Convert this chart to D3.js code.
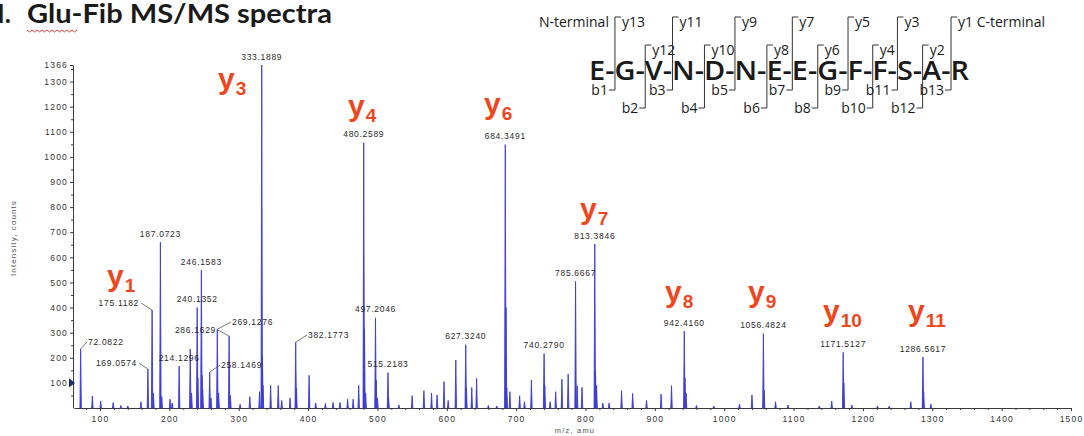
<!DOCTYPE html>
<html>
<head>
<meta charset="utf-8">
<script src="https://cdn.jsdelivr.net/npm/d3@7"></script>
<style>
  body { margin: 0; background: #fff; }
  svg { display: block; }
</style>
</head>
<body>
<svg width="1084" height="436"></svg>
<script>
// labelled peaks (m/z, intensity in counts)
const peakMz  = [72.0822, 169.0574, 175.1182, 187.0723, 214.1296, 240.1352, 246.1583, 258.1469,
                 269.1276, 286.1629, 333.1889, 382.1773, 480.2589, 497.2046, 515.2183, 627.3240,
                 684.3491, 740.2790, 785.6667, 813.3846, 942.4160, 1056.4824, 1171.5127, 1286.5617];
const peakInt = [235, 155, 390, 660, 167, 400, 549, 143,
                 314, 286, 1366, 262, 1056, 359, 141, 252,
                 1049, 217, 504, 653, 306, 297, 222, 203];

// unlabelled smaller peaks
const minorMz  = [89, 101, 119, 130, 140, 159, 177, 189, 201, 204, 230.1, 232, 241.1, 247.2, 248, 260,
                  271, 288, 302, 316, 330, 334.2, 335, 346, 357, 362, 374, 383.2, 401.5, 411, 425, 436,
                  446, 457, 465, 473, 481.3, 483, 498.2, 500, 516, 531, 550, 567, 578, 586, 596, 602,
                  613, 628.3, 636, 643, 660, 672, 685.4, 686.5, 691, 705, 712, 722, 741.3, 749, 757, 766,
                  775, 788, 795, 814.4, 816, 825, 834, 852, 868, 888, 909, 924, 943.4, 945, 960, 985,
                  1022, 1040, 1057.5, 1074, 1092, 1137, 1155, 1172.5, 1184, 1221, 1238, 1269, 1287.6, 1298];
const minorInt = [48, 28, 22, 10, 8, 25, 60, 45, 35, 20, 235, 60, 120, 130, 75, 40,
                  60, 50, 15, 45, 65, 205, 90, 90, 90, 30, 40, 80, 130, 20, 18, 22,
                  22, 35, 35, 90, 315, 60, 110, 40, 40, 12, 49, 69, 60, 52, 105, 30,
                  191, 80, 82, 118, 10, 8, 400, 80, 65, 49, 25, 111, 90, 25, 65, 115,
                  135, 89, 82, 150, 90, 20, 20, 69, 58, 30, 56, 89, 120, 60, 10, 8,
                  15, 52, 70, 25, 12, 8, 28, 100, 12, 8, 8, 25, 65, 15];

// y-ion assignments (index into the labelled peaks)
const ionNames = ["1", "3", "4", "6", "7", "8", "9", "10", "11"];
const ionPeak  = [2, 10, 12, 16, 19, 20, 21, 22, 23];

// peptide
const residues = ["E", "G", "V", "N", "D", "N", "E", "E", "G", "F", "F", "S", "A", "R"];

const xTicks = d3.range(100, 1501, 100);
const yTicks = d3.range(100, 1301, 100).concat([1366]);

// ---------- layout ----------
const svg = d3.select("svg");
const x = d3.scaleLinear().domain([62.5, 1500]).range([74, 1071]);
const y = d3.scaleLinear().domain([0, 1366]).range([408, 65]);
const axisCol = "#3a3a3a";
const peakCol = "#3d3dd3";
const ionCol = "#f0461e";
const numFont = "Liberation Sans";

// title
svg.append("text").attr("x", -3).attr("y", 23)
    .attr("font-family", "Lato").attr("font-weight", 700).attr("font-size", 26)
    .attr("fill", "#1a1a1a").text("I.");
svg.append("text").attr("x", 27).attr("y", 23)
    .attr("font-family", "Lato").attr("font-weight", 700).attr("font-size", 26)
    .attr("textLength", 305).attr("lengthAdjust", "spacingAndGlyphs")
    .attr("fill", "#1a1a1a").text("Glu-Fib MS/MS spectra");
// spell-check squiggle under "Glu"
let sq = "M27,30";
for (let i = 0, xx = 27; xx < 77; i++) { xx += 2.5; sq += `L${xx},${i % 2 ? 30 : 32}`; }
svg.append("path").attr("d", sq).attr("fill", "none").attr("stroke", "#e0403a").attr("stroke-width", 1);

// axes
const gx = svg.append("g").attr("transform", `translate(0,${y(0)})`)
    .call(d3.axisBottom(x).tickValues(xTicks).tickFormat(d3.format("d"))
        .tickSize(3).tickSizeOuter(0).tickPadding(5));
svg.append("g").attr("transform", `translate(0,${y(0)})`)
    .call(d3.axisBottom(x).tickValues(d3.range(80, 1500, 20).filter(v => v % 100)).tickSize(2).tickFormat(""))
    .call(g => g.select(".domain").remove());
const gy = svg.append("g").attr("transform", `translate(73,0)`)
    .call(d3.axisLeft(y).tickValues(yTicks).tickFormat(d3.format("d"))
        .tickSize(3).tickSizeOuter(0).tickPadding(2));
svg.append("g").attr("transform", `translate(73,0)`)
    .call(d3.axisLeft(y).tickValues(d3.range(50, 1366, 100)).tickSize(2).tickFormat(""))
    .call(g => g.select(".domain").remove());
svg.selectAll(".domain, .tick line").attr("stroke", axisCol);
[gx, gy].forEach(g => g.selectAll("text")
    .attr("font-family", numFont).attr("font-size", 8.5)
    .attr("letter-spacing", 1.2).attr("fill", "#333"));

svg.append("text")
    .attr("transform", "translate(16,238) rotate(-90)")
    .attr("text-anchor", "middle").attr("font-family", numFont).attr("font-size", 8)
    .attr("letter-spacing", 1.1).attr("fill", "#555").text("Intensity, counts");
svg.append("text").attr("x", 575).attr("y", 433)
    .attr("text-anchor", "middle").attr("font-family", numFont).attr("font-size", 7.5)
    .attr("letter-spacing", 1.2).attr("fill", "#555").text("m/z, amu");

// threshold marker on y axis
svg.append("path").attr("d", `M69,${y(118)}L75,${y(100)}L69,${y(82)}Z`).attr("fill", "#1d2a70");

// peaks
const allPeaks = d3.zip(minorMz, minorInt).concat(d3.zip(peakMz, peakInt));
svg.append("g").selectAll("path").data(allPeaks).join("path")
    .attr("d", d => `M${x(d[0]) - 0.7},${y(0)}L${x(d[0])},${y(d[1])}L${x(d[0]) + 0.7},${y(0)}Z`)
    .attr("fill", peakCol).attr("stroke", peakCol).attr("stroke-width", 0.9)
    .attr("stroke-linejoin", "round");

// peak labels; some sit to the side with a leader line
const leaderPos = { 0: [88, 345, "start"], 1: [137, 366, "end"], 2: [139, 306, "end"],
                    7: [221, 368, "start"], 8: [232, 325, "start"], 9: [216, 333, "end"],
                    11: [308, 338, "start"] };
const fmt = d3.format(".4f");
const lab = svg.append("g");
peakMz.forEach((mz, i) => {
    const px = x(mz), py = y(peakInt[i]);
    const lp = leaderPos[i];
    const t = lab.append("text")
        .attr("font-family", numFont).attr("font-size", 8.5)
        .attr("letter-spacing", 0.7).attr("fill", "#2a2a2a").text(fmt(mz));
    if (lp) {
        t.attr("x", lp[0]).attr("y", lp[1]).attr("text-anchor", lp[2]);
        const sx = lp[2] === "start" ? lp[0] - 1 : lp[0] + 2;
        lab.append("path")
            .attr("d", `M${sx},${lp[1] - 3}L${px},${py}`)
            .attr("stroke", "#555").attr("stroke-width", 0.8).attr("fill", "none");
    } else {
        t.attr("x", px).attr("y", py - 5.5).attr("text-anchor", "middle");
    }
});

// y-ion annotations
const ionPos = [[107, 286], [218, 89], [348, 116], [484, 114], [580, 219],
                [665, 302], [748, 302], [823, 321], [908, 321]];
ionNames.forEach((n, i) => {
    const t = svg.append("text").attr("x", ionPos[i][0]).attr("y", ionPos[i][1])
        .attr("font-family", numFont).attr("font-weight", 700).attr("fill", ionCol);
    t.append("tspan").attr("font-size", 30).text("y");
    t.append("tspan").attr("font-size", 19).attr("dy", 6).attr("dx", 1).text(n);
});

// peptide fragmentation diagram
const seq = svg.append("text").attr("x", 589).attr("y", 80)
    .attr("font-family", "Open Sans").attr("font-weight", 600).attr("font-size", 27)
    .attr("textLength", 380).attr("lengthAdjust", "spacingAndGlyphs")
    .attr("fill", "#1a1a1a").text(residues.join("-"));
const seqNode = seq.node();
const frag = svg.append("g").attr("font-family", "Open Sans").attr("font-size", 14).attr("fill", "#1a1a1a");
let firstBond = null;
for (let k = 1; k < residues.length; k++) {
    const ext = seqNode.getExtentOfChar(2 * k - 1);
    const bx = ext.x + ext.width + 0.5;
    if (k === 1) firstBond = bx;
    const top = k % 2 ? 17 : 45;
    const bot = k % 2 ? 90 : 108;
    frag.append("path").attr("d", `M${bx + 6},${top}H${bx}V${bot}H${bx - 6}`)
        .attr("fill", "none").attr("stroke", "#333").attr("stroke-width", 1);
    const yn = residues.length - k;
    frag.append("text").attr("x", bx + 7).attr("y", top + 10)
        .text(yn === 1 ? "y1 C-terminal" : "y" + yn);
    frag.append("text").attr("x", bx - 7).attr("y", bot + 5)
        .attr("text-anchor", "end").text("b" + k);
}
frag.append("text").attr("x", firstBond - 6).attr("y", 27)
    .attr("text-anchor", "end").text("N-terminal");
</script>
</body>
</html>
